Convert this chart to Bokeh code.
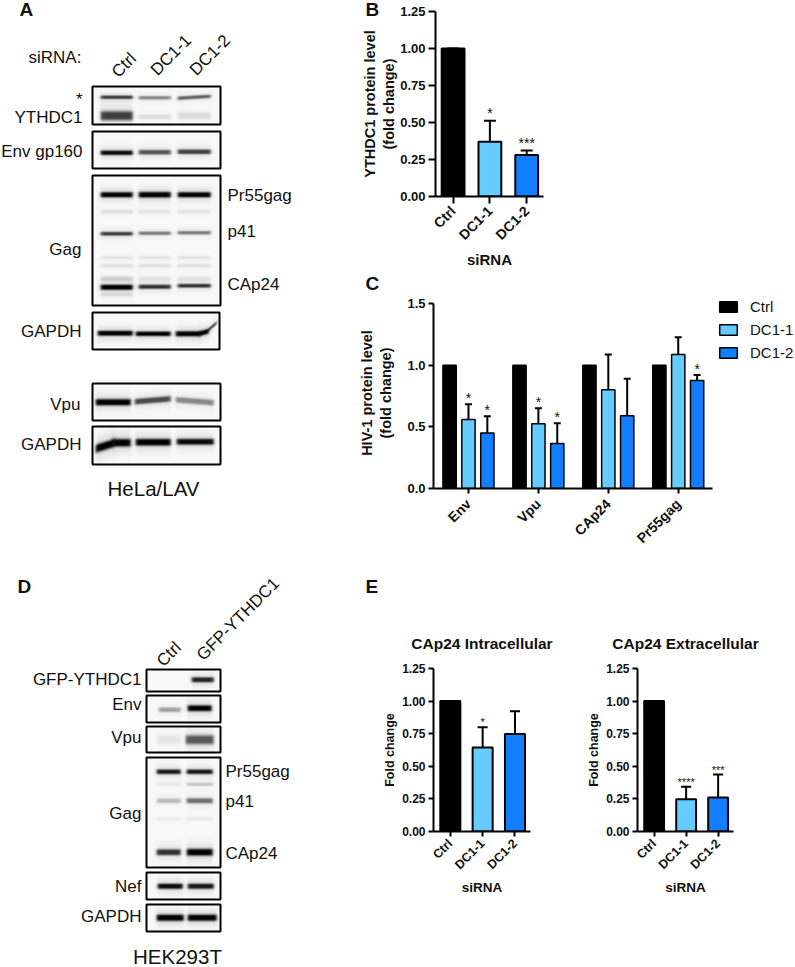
import numpy as np
from bokeh.core.properties import value
from bokeh.embed import file_html
from bokeh.layouts import column, row
from bokeh.models import ColumnDataSource, FixedTicker, Legend, LegendItem, Range1d, TeeHead, Whisker
from bokeh.plotting import figure
from bokeh.resources import INLINE

FONT = "Liberation Sans"
BLACK, LIGHT, BLUE = "#000000", "#66CCFF", "#127FFF"

# ---------- chart data ----------
sirna = ["Ctrl", "DC1-1", "DC1-2"]
sirna_colors = [BLACK, LIGHT, BLUE]

ythdc1_values = [1.0, 0.37, 0.28]
ythdc1_upper = [1.0, 0.511, 0.31]
ythdc1_stars = ["", "*", "***"]
ticks_quarter = [0, 0.25, 0.5, 0.75, 1.0, 1.25]
tick_labels_quarter = ["0.00", "0.25", "0.50", "0.75", "1.00", "1.25"]

hiv_groups = ["Env", "Vpu", "CAp24", "Pr55gag"]
hiv_ctrl = [1.0, 1.0, 1.0, 1.0]
hiv_dc1 = [0.56, 0.525, 0.80, 1.087]
hiv_dc1_upper = [0.684, 0.65, 1.087, 1.227]
hiv_dc1_stars = ["*", "*", "", ""]
hiv_dc2 = [0.45, 0.365, 0.59, 0.875]
hiv_dc2_upper = [0.586, 0.53, 0.89, 0.92]
hiv_dc2_stars = ["*", "*", "", "*"]
ticks_half = [0, 0.5, 1.0, 1.5]
tick_labels_half = ["0.0", "0.5", "1.0", "1.5"]

intra_values = [1.0, 0.645, 0.747]
intra_upper = [1.0, 0.80, 0.923]
intra_stars = ["", "*", ""]
extra_values = [1.0, 0.248, 0.26]
extra_upper = [1.0, 0.343, 0.437]
extra_stars = ["", "****", "***"]

# ---------- blot panels (drawn pictures, in page pixels) ----------
L1, L2, L3 = (100, 132), (138, 170), (177, 210)
D1, D2 = (156, 180), (186, 212)
blots = [
    ((92, 220, 86, 124), [(*L1, 96.5, 1.5, .75), (*L2, 97, 1.5, .45), (*L3, (97.5, 95.5), 1.5, .6), (*L1, 115, 4, .75), (*L2, 116, 2, .12), (*L3, 115, 3, .12)]),
    ((92, 220, 131, 168), [(*L1, 152, 2, .95), (*L2, 151.5, 2, .65), (*L3, 151, 2, .75)]),
    ((92, 220, 175, 305), [(*L1, 194, 2.3, 1), (*L2, 194, 2.5, 1), (*L3, 194, 2.3, 1),
                           (*L1, 211, 1.8, .1), (*L2, 211, 1.8, .08), (*L3, 211, 1.8, .08),
                           (*L1, 233, 1.6, .75), (*L2, 232.5, 1.5, .5), (*L3, 232, 1.5, .5),
                           (*L1, 257, 1.5, .08), (*L2, 257, 1.5, .08), (*L3, 257, 1.5, .08),
                           (*L1, 265, 1.5, .1), (*L2, 265, 1.5, .1), (*L3, 265, 1.5, .1),
                           (*L1, 278, 2, .15), (*L2, 278, 2, .08), (*L3, 278, 2, .08),
                           (*L1, 286.5, 2.3, 1), (*L2, 286, 1.8, .8), (*L3, 285, 1.6, .8), (*L1, 294, 1.5, .1)]),
    ((92, 219, 312, 349), [(97, 132, 332.5, 2.2, 1), (135, 170, 333, 2, 1), (175, 200, 333, 2.3, 1), (198, 208, (333, 330.5), 2.2, 1), (206, 216, (330.5, 322), 1.4, .7)]),
    ((92, 220, 383, 420), [(95, 130, 401.5, 2.8, 1), (134, 170, (401, 398), 2.5, .7), (175, 213, (399, 402), 2.5, .45)]),
    ((92, 220, 426, 464), [(95, 114, (448, 442), 3.6, 1), (112, 130, 442, 3.4, 1), (135, 170, 441.5, 3, 1), (176, 213, 441, 2.6, .95)]),
    ((146, 220, 669, 691), [(191, 213, 679, 2.2, .85)]),
    ((146, 220, 695, 722), [(158, 180, 709, 2, .35), (187, 211, 707.5, 2.6, 1)]),
    ((146, 220, 726, 752), [(157, 180, 739, 4, .08), (185, 213, 739, 4, .65)]),
    ((146, 220, 757, 867), [(*D1, 771, 2, .9), (*D2, 771, 2, .9), (*D1, 783.5, 1.5, .07), (*D2, 783.5, 1.5, .2),
                            (*D1, 800, 2, .25), (*D2, 800, 2.2, .55), (*D1, 818, 1.5, .05), (*D2, 818, 1.5, .07),
                            (*D1, 851.5, 2.6, .8), (*D2, 851.5, 3, 1)]),
    ((146, 220, 872, 899), [(157, 182, 885.5, 2.3, .95), (187, 213, 885.5, 2.3, .9)]),
    ((146, 220, 904, 931), [(156, 183, 917, 2.8, 1), (187, 216, 917, 2.8, 1)]),
]

blot_left_texts = ["*", "YTHDC1", "Env gp160", "Gag", "GAPDH", "Vpu", "GAPDH"]
blot_left_x = [82, 82, 82, 81, 81, 80, 81]
blot_left_y = [99, 117, 151, 249, 331, 404, 444]
blot_right_texts = ["Pr55gag", "p41", "CAp24"]
blot_right_x = [227, 227, 227]
blot_right_y = [195, 231, 284]
d_left_texts = ["GFP-YTHDC1", "Env", "Vpu", "Gag", "Nef", "GAPDH"]
d_left_y = [679, 704, 737, 813, 886, 916]
d_right_texts = ["Pr55gag", "p41", "CAp24"]
d_right_y = [771, 801, 853]
panel_letters = ["A", "D", "B", "C", "E"]


def blot_image(box, bands):
    x0, x1, y0, y1 = box
    xs = np.arange(x0, x1, 0.5) + 0.25
    ys = np.arange(y0, y1, 0.5) + 0.25
    X, Y = np.meshgrid(xs, ys)
    light = np.ones_like(X)
    for bx0, bx1, yc, thick, dark in bands:
        ya, yb = yc if isinstance(yc, tuple) else (yc, yc)
        centre = ya + (yb - ya) * (X - bx0) / (bx1 - bx0)
        fx = 0.5 * (np.tanh((X - bx0) / 1.6) - np.tanh((X - bx1) / 1.6))
        d = np.abs(Y - centre)
        fy = np.minimum(1, np.exp(-(d / (thick * 1.15)) ** 3) + 0.13 * np.exp(-(d / (thick * 3)) ** 2))
        light *= 1 - dark * fx * fy
    g = (249 * light).astype(np.uint32)
    return (255 << 24) | (g << 16) | (g << 8) | g


# ---------- left column: blots ----------
LEFT_W = 385
left = figure(width=LEFT_W, height=967, x_range=Range1d(0, LEFT_W), y_range=Range1d(967, 0),
              output_backend="svg", toolbar_location=None, min_border=0, frame_align=False)
left.axis.visible = False
left.grid.visible = False
left.outline_line_color = None

for box, bands in blots:
    x0, x1, y0, y1 = box
    left.image_rgba(image=[blot_image(box, bands)], x=x0, y=y0, dw=x1 - x0, dh=y1 - y0)
    left.quad(left=x0, right=x1, top=y0, bottom=y1, fill_color=None, line_color="black", line_width=2)


def put(xs, ys, texts, size, align="left", angle=0.0, style="normal"):
    left.text(x=xs, y=ys, text=texts, angle=angle, text_align=align, text_baseline="middle",
              text_font=value(FONT), text_font_size=value(size), text_font_style=style, text_color="#111111")


put([28], [57], ["siRNA:"], "17px")
put([114, 153, 192], [74, 72, 72], sirna, "17px", angle=np.pi / 4)
put(blot_left_x, blot_left_y, blot_left_texts, "17px", "right")
put(blot_right_x, blot_right_y, blot_right_texts, "17px")
put([153], [488], ["HeLa/LAV"], "20.5px", "center")
put([159, 199], [663, 657], ["Ctrl", "GFP-YTHDC1"], "17px", angle=np.pi / 4)
put([141] * len(d_left_texts), d_left_y, d_left_texts, "17px", "right")
put([225] * 3, d_right_y, d_right_texts, "17px")
put([177], [955.5], ["HEK293T"], "20.5px", "center")
put([19, 17, 365, 365, 365], [9, 586, 9, 283, 586], panel_letters, "19px", style="bold")


# ---------- bar panels ----------
def style_axes(p, yticks, ylabels, xticks, xlabels, tick_size, xtick_size, tick_len, xstand, ylabel, ystand,
               xlabel=None, ylabel_size="14.5px", xlabel_size="15px"):
    p.grid.visible = False
    p.outline_line_color = None
    p.border_fill_color = None
    p.background_fill_color = None
    yax, xax = p.yaxis[0], p.xaxis[0]
    yax.ticker = FixedTicker(ticks=yticks)
    yax.major_label_overrides = dict(zip(yticks, ylabels))
    xax.ticker = FixedTicker(ticks=xticks)
    xax.major_label_overrides = dict(zip(xticks, xlabels))
    xax.major_label_orientation = np.pi / 4
    for ax in (yax, xax):
        ax.axis_line_width = 2
        ax.axis_line_color = "black"
        ax.major_tick_line_width = 2
        ax.major_tick_line_color = "black"
        ax.major_tick_in = 0
        ax.major_tick_out = tick_len
        ax.minor_tick_line_color = None
        ax.major_label_text_font = FONT
        ax.major_label_text_font_style = "bold"
        ax.major_label_text_font_size = tick_size
        ax.major_label_text_color = "#111111"
        ax.major_label_standoff = 3
        ax.axis_label_text_font = FONT
        ax.axis_label_text_font_style = "bold"
        ax.axis_label_text_color = "#111111"
    xax.major_label_text_font_size = xtick_size
    xax.major_label_standoff = xstand
    yax.axis_label = ylabel
    yax.axis_label_standoff = ystand
    yax.axis_label_text_font_size = ylabel_size
    if xlabel:
        xax.axis_label = xlabel
        xax.axis_label_standoff = 0
        xax.axis_label_text_font_size = xlabel_size


def errors(p, xs, vals, uppers, head):
    src = ColumnDataSource(dict(x=xs, lower=vals, upper=uppers))
    p.add_layout(Whisker(source=src, base="x", lower="lower", upper="upper", line_width=2, line_color="black",
                         upper_head=TeeHead(size=head, line_width=2, line_color="black"), lower_head=None))


def stars(p, xs, uppers, marks, size, offset):
    p.text(x=xs, y=uppers, text=marks, text_align="center", text_baseline="alphabetic", y_offset=offset,
           text_font=value(FONT), text_font_size=value(size), text_color="#111111")


def simple_panel(w, h, xr, yr, borders, vals, upper, marks, head, star_size, star_off, tick_size, xtick_size, tick_len,
                 xstand, ylabel, ystand, xlabel, ylabel_size, xlabel_size, title=None):
    p = figure(width=w, height=h, x_range=Range1d(*xr), y_range=Range1d(*yr), output_backend="svg",
               toolbar_location=None, min_border_left=borders[0], min_border_right=borders[1],
               min_border_top=borders[2], min_border_bottom=borders[3], frame_align=False)
    xs = list(range(len(vals)))
    errors(p, xs, vals, upper, head)
    p.vbar(x=xs, top=vals, bottom=0, width=0.62, fill_color=sirna_colors, line_color="black", line_width=2)
    stars(p, xs, upper, marks, star_size, star_off)
    style_axes(p, ticks_quarter, tick_labels_quarter, xs, sirna, tick_size, xtick_size, tick_len, xstand, ylabel, ystand,
               xlabel, ylabel_size, xlabel_size)
    if title:
        p.title.text = title
        p.title.align = "center"
        p.title.text_font = FONT
        p.title.text_font_style = "bold"
        p.title.text_font_size = "15.5px"
        p.title.text_color = "#111111"
        p.title.standoff = 33
    return p


B = simple_panel(445, 272, (-0.478, 2.457), (0, 1.25), (85, 252, 11, 76), ythdc1_values, ythdc1_upper, ythdc1_stars,
                 12, "14px", -8, "13px", "14px", 7, 5, "YTHDC1 protein level\n(fold change)", 0, "siRNA", "14.5px", "15px")

C = figure(width=445, height=300, x_range=Range1d(-0.5, 4.677), y_range=Range1d(0, 1.5486), output_backend="svg",
           toolbar_location=None, min_border_left=83, min_border_right=0, min_border_top=25, min_border_bottom=84,
           frame_align=False)
gx = list(range(len(hiv_groups)))
x_ctrl = [g - 0.27 for g in gx]
x_dc2 = [g + 0.27 for g in gx]
errors(C, gx, hiv_dc1, hiv_dc1_upper, 7)
errors(C, x_dc2, hiv_dc2, hiv_dc2_upper, 7)
r1 = C.vbar(x=x_ctrl, top=hiv_ctrl, bottom=0, width=0.19, fill_color=BLACK, line_color="black", line_width=1.5)
r2 = C.vbar(x=gx, top=hiv_dc1, bottom=0, width=0.19, fill_color=LIGHT, line_color="black", line_width=1.5)
r3 = C.vbar(x=x_dc2, top=hiv_dc2, bottom=0, width=0.19, fill_color=BLUE, line_color="black", line_width=1.5)
stars(C, gx, hiv_dc1_upper, hiv_dc1_stars, "14px", -6)
stars(C, x_dc2, hiv_dc2_upper, hiv_dc2_stars, "14px", -6)
style_axes(C, ticks_half, tick_labels_half, gx, hiv_groups, "13px", "14px", 5, 8, "HIV-1 protein level\n(fold change)", 10)
C.xaxis[0].bounds = (-0.5, 3.49)
C.yaxis[0].bounds = (0, 1.5)
legend = Legend(items=[LegendItem(label=s, renderers=[r]) for s, r in zip(sirna, [r1, r2, r3])],
                location=(284, 127), orientation="vertical", background_fill_alpha=0, border_line_color=None,
                glyph_width=22, glyph_height=13, spacing=6, padding=0, margin=0, label_standoff=11,
                label_text_font=FONT, label_text_font_size="15px", label_text_color="#111111")
C.add_layout(legend, "center")

E1 = simple_panel(220, 395, (-0.52, 2.48), (0, 1.25), (83, 40, 96, 136), intra_values, intra_upper, intra_stars,
                  10, "11px", -5, "12px", "12.5px", 5, 5, "Fold change", 2, "siRNA", "12.5px", "13.5px", title="CAp24 Intracellular")
E2 = simple_panel(225, 395, (-0.52, 2.48), (0, 1.25), (67, 62, 96, 136), extra_values, extra_upper, extra_stars,
                  10, "11px", -5, "12px", "12.5px", 5, 5, "Fold change", 2, "siRNA", "12.5px", "13.5px", title="CAp24 Extracellular")

root = row(left, column(B, C, row(E1, E2), margin=(0, 0, 0, 350 - LEFT_W)))
open("out.html", "w").write(file_html(root, INLINE))
